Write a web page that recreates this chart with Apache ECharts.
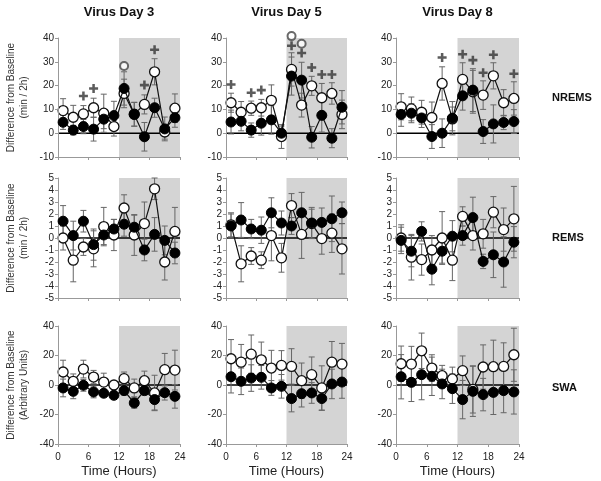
<!DOCTYPE html>
<html><head><meta charset="utf-8">
<script src="https://cdn.jsdelivr.net/npm/echarts@6/dist/echarts.min.js"></script>
<style>html,body{margin:0;padding:0;background:#fff}#c{width:601px;height:481px}</style>
</head><body><div id="c"></div><script>
const hours = [1,3,5,7,9,11,13,15,17,19,21,23];
const xTicks = [0,6,12,18,24];
const dayTitles = ['Virus Day 3','Virus Day 5','Virus Day 8'];
const measureNames = ['NREMS','REMS','SWA'];
const yTitles = [['Difference from Baseline','(min / 2h)'],['Difference from Baseline','(min / 2h)'],['Difference from Baseline','(Arbitrary Units)']];
const yRanges = [[-10,40,10],[-5,5,1],[-40,40,20]];
const darkPeriod = [12,24];

// NREMS
const nremsD3Open = [9.5,6.7,8.1,10.7,8.4,2.8,16.7,8.0,12.1,25.8,0.5,10.5];
const nremsD3OpenErr = [5,5,3.5,4,8,4,6,5,4,5.5,3,6];
const nremsD3Fill = [4.6,1.3,2.8,1.7,5.9,7.4,18.8,7.9,-1.5,10.7,1.8,6.5];
const nremsD3FillErr = [3,2,3,5,4,6,7,5,6,4,5,4];
const nremsD3Plus = [[5,15.6],[7,18.8],[17,20.2],[19,35.1]];
const nremsD3Circ = [[13,28.2]];

const nremsD5Open = [12.8,8.8,10.5,10.7,13.8,-1.4,26.8,11.8,19.9,14.9,16.7,7.9];
const nremsD5OpenErr = [4,4.5,3,3.5,6.5,5,7,5,4,6,4.5,6];
const nremsD5Fill = [4.7,5.0,1.3,4.2,5.6,0.0,24.0,22.3,-1.7,7.5,-2.1,10.9];
const nremsD5FillErr = [5,4,3,5,6,3,8,7.5,4.5,7,4,7];
const nremsD5Plus = [[1,20.5],[5,17],[7,18.1],[13,36.7],[15,33.7],[17,27.6],[19,24.7],[21,24.7]];
const nremsD5Circ = [[13,40.8],[15,37.6]];

const nremsD8Open = [11.1,10.2,8.8,6.6,20.9,6.0,22.6,17.4,16.0,24.1,12.8,14.6];
const nremsD8OpenErr = [5.5,5,5,6.5,7,5,7,9,6,5.5,5.5,7];
const nremsD8Fill = [7.9,8.4,6.4,-1.4,0.0,6.3,15.7,18.1,0.7,3.9,4.5,4.9];
const nremsD8FillErr = [5,4,4,5,6,7,6,9,5,8,3,5];
const nremsD8Plus = [[9,31.8],[13,33.2],[15,30.7],[17,25.4],[19,33],[23,25]];
const nremsD8Circ = [];

// REMS
const remsD3Open = [0,-1.85,-0.75,-0.9,0.95,0.25,2.5,0.25,1.2,4.1,-2.0,0.55];
const remsD3OpenErr = [1.0,1.8,0.7,1.5,1.6,1.3,1.1,1.7,1.8,0.9,1.5,2.0];
const remsD3Fill = [1.4,0.2,1.4,-0.55,0.25,0.75,1.15,0.9,-1.0,0.3,-0.2,-1.25];
const remsD3FillErr = [1.3,1.2,0.9,1.3,0.8,0.8,1.0,1.0,0.9,1.4,1.2,0.9];

const remsD5Open = [1.1,-2.15,-1.5,-1.85,0.2,-1.65,2.7,0.3,1.2,-0.05,0.4,-0.9];
const remsD5OpenErr = [1.0,1.5,0.7,0.7,2.1,1.2,1.0,2.0,1.2,1.3,1.6,2.1];
const remsD5Fill = [1.0,1.5,0.75,0.65,2.1,1.25,1.0,2.1,1.25,1.3,1.6,2.1];
const remsD5FillErr = [1.0,1.45,0.8,1.1,1.25,1.0,0.7,1.7,1.3,1.2,1.9,0.9];

const remsD8Open = [0,-1.6,-1.8,-1.0,0.0,-1.85,1.8,0.2,0.35,2.15,0.7,1.6];
const remsD8OpenErr = [1.1,1.9,1.3,1.2,2.2,1.7,0.8,1.2,1.2,1.3,1.8,2.7];
const remsD8Fill = [-0.2,-1.1,0.55,-2.6,-1.1,0.15,0.2,1.7,-1.95,-1.4,-2.0,-0.35];
const remsD8FillErr = [1.1,1.3,0.8,1.3,1.0,1.3,0.8,1.7,0.6,1.9,2.1,1.3];

// SWA
const swaD3Open = [8.8,2.5,10.8,5.4,2.0,0,4.3,-2.0,2.9,-5.4,10.4,10.1];
const swaD3OpenErr = [8,5,6,4.5,6,2,4.5,6,6.5,12,11,13.5];
const swaD3Fill = [-2.0,-4.3,-0.2,-4.7,-5.6,-7.0,-3.8,-12.2,-3.8,-9.9,-5.2,-7.7];
const swaD3FillErr = [6,5,4,4,2.5,2.5,3,3.5,3,7,5,8];

const swaD5Open = [17.8,15.5,20.9,17.1,11.5,13.3,12.6,2.9,7.0,-2.0,15.5,14.2];
const swaD5OpenErr = [13,12,13,12,12,10,12,12,12,15,14,14];
const swaD5Fill = [5.6,2.5,4.7,5.2,-2.0,-0.9,-9.2,-5.9,-5.4,-9.2,0.7,2.0];
const swaD5FillErr = [11,9,9,8,5,8,9,9,7,8,10,11];

const swaD8Open = [14.4,14.2,23.2,11.5,6.3,4.1,9.7,-3.0,12.2,12.4,12.6,20.5];
const swaD8OpenErr = [12,12,12,9,7,8,10,16,15,18,16,18];
const swaD8Fill = [5.6,1.8,7.0,5.9,0.7,-2.5,-9.9,-4.3,-6.5,-5.0,-3.8,-4.7];
const swaD8FillErr = [15,13,17,13,10,10,13,17,11,15,15,15];

const panels = [
  [nremsD3Open,nremsD3OpenErr,nremsD3Fill,nremsD3FillErr,nremsD3Plus,nremsD3Circ],
  [nremsD5Open,nremsD5OpenErr,nremsD5Fill,nremsD5FillErr,nremsD5Plus,nremsD5Circ],
  [nremsD8Open,nremsD8OpenErr,nremsD8Fill,nremsD8FillErr,nremsD8Plus,nremsD8Circ],
  [remsD3Open,remsD3OpenErr,remsD3Fill,remsD3FillErr,[],[]],
  [remsD5Open,remsD5OpenErr,remsD5Fill,remsD5FillErr,[],[]],
  [remsD8Open,remsD8OpenErr,remsD8Fill,remsD8FillErr,[],[]],
  [swaD3Open,swaD3OpenErr,swaD3Fill,swaD3FillErr,[],[]],
  [swaD5Open,swaD5OpenErr,swaD5Fill,swaD5FillErr,[],[]],
  [swaD8Open,swaD8OpenErr,swaD8Fill,swaD8FillErr,[],[]]
];

// layout
const colLeft = [58, 226, 396];
const colWidth = [122, 121, 123];
const rowTop = [38, 178, 326];
const rowHeight = [119, 120, 118];
const FONT = 'Liberation Sans, Arial, sans-serif';
const PLUS = 'path://M3.6,0h2.8v3.6h3.6v2.8h-3.6v3.6h-2.8v-3.6h-3.6v-2.8h3.6z';

function errItem(params, api) {
  const x = api.value(0), lo = api.value(1), hi = api.value(2);
  const p1 = api.coord([x, hi]), p2 = api.coord([x, lo]);
  const w = 3;
  const st = {stroke: '#666', lineWidth: 1};
  return {type: 'group', children: [
    {type: 'line', shape: {x1: p1[0], y1: p1[1], x2: p2[0], y2: p2[1]}, style: st},
    {type: 'line', shape: {x1: p1[0]-w, y1: p1[1], x2: p1[0]+w, y2: p1[1]}, style: st},
    {type: 'line', shape: {x1: p2[0]-w, y1: p2[1], x2: p2[0]+w, y2: p2[1]}, style: st}
  ]};
}

const option = {animation: false, grid: [], xAxis: [], yAxis: [], series: [], graphic: []};

for (let r = 0; r < 3; r++) {
  for (let c = 0; c < 3; c++) {
    const i = r*3 + c;
    const [ymin, ymax, yint] = yRanges[r];
    option.grid.push({left: colLeft[c], top: rowTop[r], width: colWidth[c], height: rowHeight[r]});
    option.xAxis.push({
      gridIndex: i, type: 'value', min: xTicks[0], max: xTicks[xTicks.length-1], interval: 6, z: 5,
      axisLine: {show: true, onZero: false, lineStyle: {color: '#999', width: 1}},
      axisTick: {show: true, length: 3, lineStyle: {color: '#999'}},
      axisLabel: {show: r === 2, fontSize: 10, color: '#222', fontFamily: FONT, margin: 8},
      splitLine: {show: false}
    });
    option.yAxis.push({
      gridIndex: i, type: 'value', min: ymin, max: ymax, interval: yint, z: 5,
      axisLine: {show: true, lineStyle: {color: '#999', width: 1}},
      axisTick: {show: true, length: 3, lineStyle: {color: '#999'}},
      axisLabel: {fontSize: 10, color: '#222', fontFamily: FONT, margin: 4},
      splitLine: {show: false}
    });
    const [op, opE, fl, flE, plus, circ] = panels[i];
    option.series.push({
      type: 'custom', xAxisIndex: i, yAxisIndex: i, z: 1, silent: true,
      data: [[darkPeriod[0], darkPeriod[1]]],
      renderItem: (p, api) => {
        const a = api.coord([api.value(0), ymax]), b = api.coord([api.value(1), ymin]);
        return {type: 'rect', shape: {x: a[0], y: a[1], width: b[0]-a[0], height: b[1]-a[1]}, style: {fill: '#d4d4d4'}};
      }
    });
    option.series.push({
      type: 'custom', xAxisIndex: i, yAxisIndex: i, z: 2, silent: true,
      data: [[xTicks[0], xTicks[xTicks.length-1]]],
      renderItem: (p, api) => {
        const a = api.coord([api.value(0), 0]), b = api.coord([api.value(1), 0]);
        return {type: 'line', shape: {x1: a[0], y1: a[1], x2: b[0], y2: b[1]}, style: {stroke: '#000', lineWidth: 1.5}};
      }
    });
    option.series.push({
      type: 'custom', xAxisIndex: i, yAxisIndex: i, z: 3, silent: true, renderItem: errItem,
      data: hours.map((h, k) => [h, op[k]-opE[k], op[k]+opE[k]])
    });
    option.series.push({
      type: 'custom', xAxisIndex: i, yAxisIndex: i, z: 3, silent: true, renderItem: errItem,
      data: hours.map((h, k) => [h, fl[k]-flE[k], fl[k]+flE[k]])
    });
    option.series.push({
      type: 'line', xAxisIndex: i, yAxisIndex: i, z: 4, silent: true,
      data: hours.map((h, k) => [h, op[k]]),
      symbol: 'circle', symbolSize: 10, showAllSymbol: true,
      lineStyle: {color: '#111', width: 1.2},
      itemStyle: {color: '#fff', borderColor: '#111', borderWidth: 1.3}
    });
    option.series.push({
      type: 'line', xAxisIndex: i, yAxisIndex: i, z: 5, silent: true,
      data: hours.map((h, k) => [h, fl[k]]),
      symbol: 'circle', symbolSize: 10, showAllSymbol: true,
      lineStyle: {color: '#111', width: 1.2},
      itemStyle: {color: '#000', borderColor: '#000', borderWidth: 1}
    });
    if (plus.length) option.series.push({
      type: 'scatter', xAxisIndex: i, yAxisIndex: i, z: 6, silent: true, clip: false,
      data: plus, symbol: PLUS, symbolSize: 9, itemStyle: {color: '#333'}
    });
    if (circ.length) option.series.push({
      type: 'scatter', xAxisIndex: i, yAxisIndex: i, z: 6, silent: true, clip: false,
      data: circ, symbol: 'circle', symbolSize: 8,
      itemStyle: {color: '#fff', borderColor: '#444', borderWidth: 2}
    });
  }
}

for (let c = 0; c < 3; c++) {
  const cx = colLeft[c] + colWidth[c]/2;
  option.graphic.push({type: 'text', x: cx, y: 12, style: {text: dayTitles[c], font: 'bold 13px ' + FONT, fill: '#111', align: 'center', verticalAlign: 'middle'}});
  option.graphic.push({type: 'text', x: cx, y: 471, style: {text: 'Time (Hours)', font: '13px ' + FONT, fill: '#222', align: 'center', verticalAlign: 'middle'}});
}
for (let r = 0; r < 3; r++) {
  const cy = rowTop[r] + rowHeight[r]/2;
  option.graphic.push({type: 'text', x: 11, y: cy, rotation: Math.PI/2, style: {text: yTitles[r][0], font: '10px ' + FONT, fill: '#333', align: 'center', verticalAlign: 'middle'}});
  option.graphic.push({type: 'text', x: 24, y: cy, rotation: Math.PI/2, style: {text: yTitles[r][1], font: '10px ' + FONT, fill: '#333', align: 'center', verticalAlign: 'middle'}});
  option.graphic.push({type: 'text', x: 552, y: [98, 238, 388][r], style: {text: measureNames[r], font: 'bold 11px ' + FONT, fill: '#111', align: 'left', verticalAlign: 'middle'}});
}

const chart = echarts.init(document.getElementById('c'), null, {renderer: 'canvas'});
chart.setOption(option);
</script></body></html>
